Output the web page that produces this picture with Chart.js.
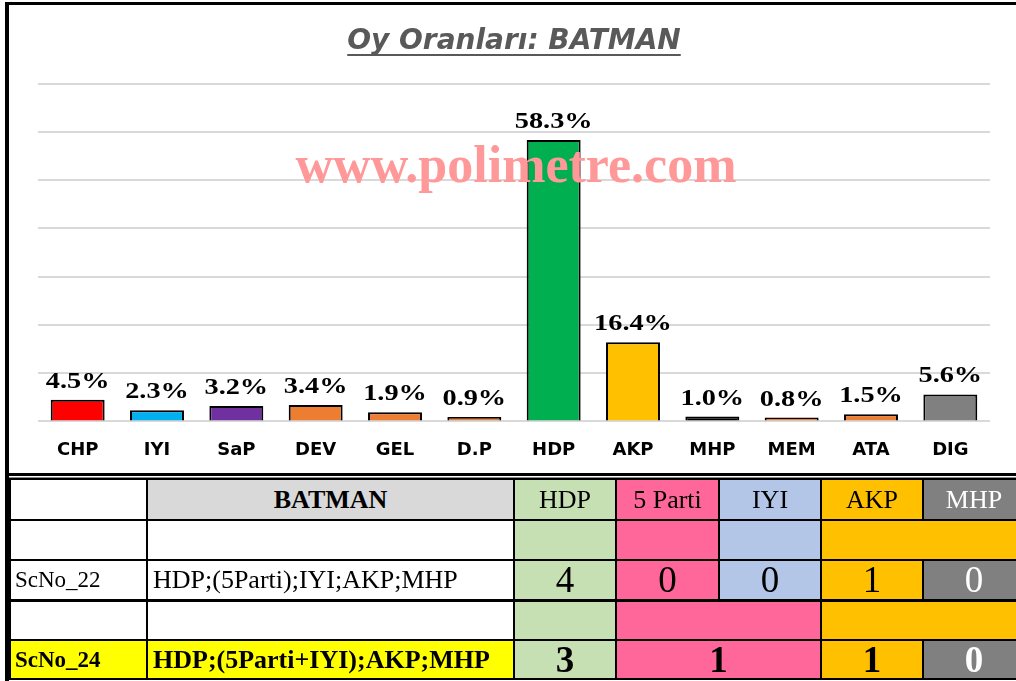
<!DOCTYPE html>
<html>
<head>
<meta charset="utf-8">
<script src="https://cdn.jsdelivr.net/npm/chart.js@4"></script>
<style>
html,body{margin:0;background:#fff;overflow:hidden;}
#wrap{position:relative;width:1016px;height:681px;overflow:hidden;background:#fff;}
.cizgi{position:absolute;background:#000;}
#chartbox{position:absolute;left:0;top:0;width:1000px;height:488px;}
#tblwrap{position:absolute;left:9px;top:477px;width:1007px;height:204px;border-top:1px solid #888;overflow:hidden;}
#tbl{border-collapse:collapse;table-layout:fixed;width:1015px;font-family:"Liberation Serif","Times New Roman",serif;font-size:26px;color:#000;}
#tbl td{border:2px solid #000;padding:0;text-align:center;white-space:nowrap;overflow:hidden;line-height:1;}
#tbl td.sol{text-align:left;padding-left:4px;font-size:23px;}
#tbl td.ad{text-align:left;padding-left:5px;}
#tbl td.num{font-size:37px;}
#tbl tr.kalin td{font-weight:bold;}
#tbl tr.alt td{border-bottom:3px solid #000;}
</style>
</head>
<body>
<div id="wrap">
  <div class="cizgi" style="left:5px;top:2px;width:1011px;height:3px"></div>
  <div class="cizgi" style="left:5px;top:2px;width:4px;height:679px"></div>
  <div class="cizgi" style="left:5px;top:473px;width:1011px;height:3px"></div>
  <div id="chartbox"><canvas id="oy_orani"></canvas></div>
  <div id="tblwrap">
    <table id="tbl">
      <colgroup>
        <col style="width:137px"><col style="width:367px"><col style="width:102px"><col style="width:103px"><col style="width:102px"><col style="width:102px"><col style="width:102px">
      </colgroup>
      <tbody id="tbody"></tbody>
    </table>
  </div>
</div>
<script>
// Oy oranlari - BATMAN
var partiler = ['CHP','IYI','SaP','DEV','GEL','D.P','HDP','AKP','MHP','MEM','ATA','DIG'];
var oranlar = [4.5, 2.3, 3.2, 3.4, 1.9, 0.9, 58.3, 16.4, 1.0, 0.8, 1.5, 5.6];
var renkler = ['#ff0000','#00b0f0','#7030a0','#ed7d31','#ed7d31','#ed7d31','#00b050','#ffc000','#000000','#ed7d31','#ed7d31','#808080'];

// Tablo
var tablo_baslik = ['HDP','5 Parti','IYI','AKP','MHP'];
var tablo_renk = ['#c6e0b4','#ff6699','#b4c6e7','#ffc000','#808080'];
var sc22_adi = 'ScNo_22';
var sc22_sira = 'HDP;(5Parti);IYI;AKP;MHP';
var sc22_sandalye = [4, 0, 0, 1, 0];
var sc24_adi = 'ScNo_24';
var sc24_sira = 'HDP;(5Parti+IYI);AKP;MHP';
var sc24_sandalye = [3, 1, 1, 0];
var sc24_birlesik = [1, 2, 1, 1];

function hucre(txt, bg, span, cls, beyaz){
    return '<td' + (span > 1 ? ' colspan="' + span + '"' : '') + (cls ? ' class="' + cls + '"' : '') +
        ' style="background:' + bg + (beyaz ? ';color:#fff' : '') + '">' + txt + '</td>';
}
var h = '';
// baslik satiri
h += '<tr style="height:41px">' + hucre('', '#fff', 1) + hucre('<b>BATMAN</b>', '#d9d9d9', 1);
tablo_baslik.forEach(function(b, i){ h += hucre(b, tablo_renk[i], 1, '', i == 4); });
h += '</tr>';
// bos satir 1
h += '<tr style="height:40px">' + hucre('', '#fff', 1) + hucre('', '#fff', 1) +
    hucre('', tablo_renk[0], 1) + hucre('', tablo_renk[1], 1) + hucre('', tablo_renk[2], 1) + hucre('', tablo_renk[3], 2) + '</tr>';
// ScNo_22
h += '<tr class="alt" style="height:40px">' + hucre(sc22_adi, '#fff', 1, 'sol') + hucre(sc22_sira, '#fff', 1, 'ad');
sc22_sandalye.forEach(function(v, i){ h += hucre(v, tablo_renk[i], 1, 'num', i == 4); });
h += '</tr>';
// bos satir 2
h += '<tr style="height:40px">' + hucre('', '#fff', 1) + hucre('', '#fff', 1) +
    hucre('', tablo_renk[0], 1) + hucre('', tablo_renk[1], 2) + hucre('', tablo_renk[3], 2) + '</tr>';
// ScNo_24
var r24 = ['#c6e0b4','#ff6699','#ffc000','#808080'];
h += '<tr class="kalin" style="height:39px">' + hucre(sc24_adi, '#ffff00', 1, 'sol') + hucre(sc24_sira, '#ffff00', 1, 'ad');
sc24_sandalye.forEach(function(v, i){ h += hucre(v, r24[i], sc24_birlesik[i], 'num', i == 3); });
h += '</tr>';
document.getElementById('tbody').innerHTML = h;

// etiketler ve filigran
var etiketPlugin = {
    id: 'etiketler',
    afterDatasetsDraw: function(chart){
        var ctx = chart.ctx;
        var meta = chart.getDatasetMeta(0);
        ctx.save();
        ctx.fillStyle = '#000';
        ctx.font = 'bold 24px "Liberation Serif", serif';
        ctx.textAlign = 'center';
        ctx.textBaseline = 'alphabetic';
        meta.data.forEach(function(bar, i){
            ctx.save();
            ctx.translate(bar.x, bar.y - 12);
            ctx.scale(1.18, 1);
            ctx.fillText(oranlar[i].toFixed(1) + '%', 0, 0);
            ctx.restore();
        });
        // filigran
        ctx.fillStyle = '#ff9999';
        ctx.font = 'bold 52px "Liberation Serif", serif';
        ctx.fillText('www.polimetre.com', 516, 182);
        ctx.restore();
    },
    afterDraw: function(chart){
        // baslik alt cizgisi
        var ctx = chart.ctx;
        var tb = chart.titleBlock;
        ctx.save();
        ctx.font = 'italic bold 28px "DejaVu Sans", sans-serif';
        var w = ctx.measureText(chart.options.plugins.title.text).width;
        var cx = (tb.left + tb.right) / 2;
        ctx.fillStyle = '#595959';
        ctx.fillRect(cx - w / 2, 54, w, 2);
        ctx.restore();
    }
};

var bieudo = new Chart(document.getElementById('oy_orani').getContext('2d'), {
    type: 'bar',
    data: {
        labels: partiler,
        datasets: [{
            data: oranlar,
            backgroundColor: renkler,
            borderColor: '#000',
            borderWidth: 2,
            barPercentage: 0.68,
            categoryPercentage: 1
        }]
    },
    options: {
        responsive: true,
        maintainAspectRatio: false,
        animation: false,
        layout: { padding: { left: 38, right: 10, top: 0, bottom: 9 } },
        plugins: {
            legend: { display: false },
            tooltip: { enabled: false },
            title: {
                display: true,
                text: 'Oy Oranları: BATMAN',
                color: '#595959',
                font: { family: '"DejaVu Sans", sans-serif', size: 28, weight: 'bold', style: 'italic' },
                padding: { top: 25, bottom: 25 }
            }
        },
        scales: {
            x: {
                grid: { display: false, drawTicks: false },
                border: { display: false },
                ticks: {
                    color: '#000',
                    padding: 18,
                    font: { family: '"DejaVu Sans", sans-serif', size: 18, weight: 'bold' }
                }
            },
            y: {
                min: 0,
                max: 70,
                ticks: { display: false, stepSize: 10 },
                grid: { color: '#d9d9d9', lineWidth: 2, drawTicks: false },
                border: { display: false }
            }
        }
    },
    plugins: [etiketPlugin]
});
</script>
</body>
</html>
